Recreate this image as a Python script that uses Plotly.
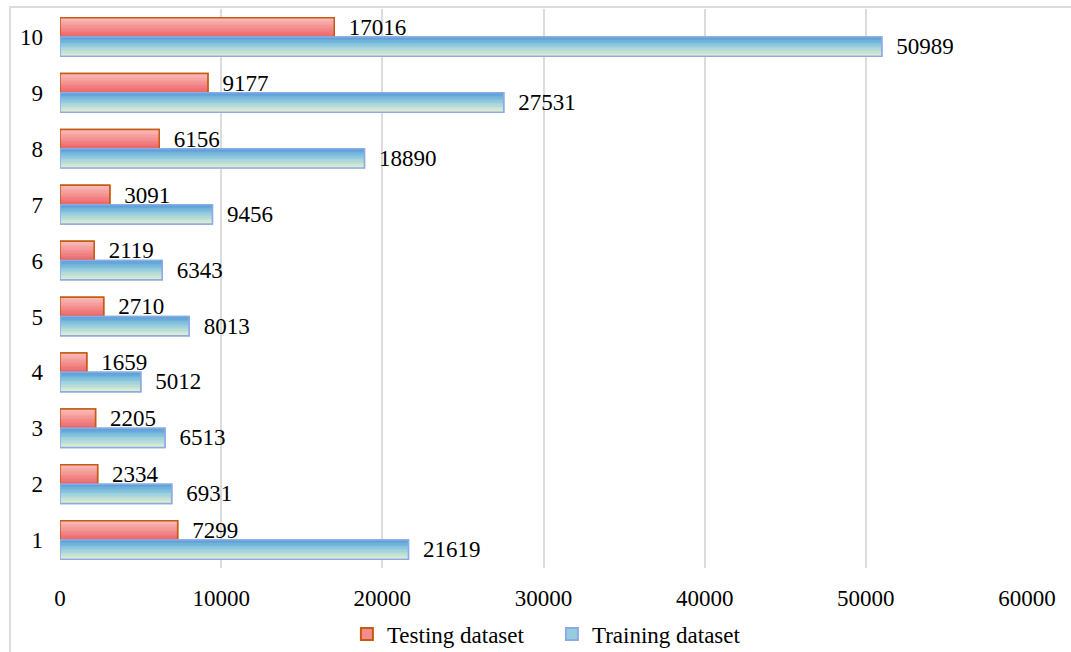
import plotly.graph_objects as go

categories = [1, 2, 3, 4, 5, 6, 7, 8, 9, 10]
testing = [7299, 2334, 2205, 1659, 2710, 2119, 3091, 6156, 9177, 17016]
training = [21619, 6931, 6513, 5012, 8013, 6343, 9456, 18890, 27531, 50989]
x_ticks = [0, 10000, 20000, 30000, 40000, 50000, 60000]

FONT = "Liberation Serif, Times New Roman, serif"
FS = 23
BW = 0.345  # bar thickness in category units

def lerp(c1, c2, t):
    return tuple(round(a + (b - a) * t) for a, b in zip(c1, c2))

def grad(stops, t):
    for (p0, c0), (p1, c1) in zip(stops, stops[1:]):
        if p0 <= t <= p1:
            return lerp(c0, c1, (t - p0) / (p1 - p0) if p1 > p0 else 0)
    return stops[-1][1]

# top -> bottom gradients
red_stops = [(0, (250, 188, 188)), (1, (236, 96, 96))]
blue_stops = [(0, (85, 158, 214)), (0.45, (150, 205, 222)), (1, (236, 242, 205))]

fig = go.Figure()

def add_series(name, values, base_off, stops, line_color, mid_color):
    fig.add_trace(go.Bar(
        y=categories, x=values, orientation="h", name=name,
        offset=base_off, width=BW,
        marker=dict(color=mid_color, line=dict(color=line_color, width=1.5)),
        showlegend=True, hoverinfo="skip",
    ))
    n = 14
    for i in range(n):
        t_top = 1 - (i + 0.5) / n
        c = grad(stops, t_top)
        fig.add_trace(go.Bar(
            y=categories, x=values, orientation="h",
            offset=base_off + BW * i / n, width=BW / n + 0.002,
            marker=dict(color="rgb(%d,%d,%d)" % c, line=dict(width=0)),
            showlegend=False, hoverinfo="skip",
        ))
    fig.add_trace(go.Bar(
        y=categories, x=values, orientation="h",
        offset=base_off, width=BW,
        marker=dict(color="rgba(0,0,0,0)", line=dict(color=line_color, width=1.5)),
        text=["  " + str(v) for v in values], textposition="outside",
        constraintext="none",
        textfont=dict(family=FONT, size=FS, color="#000000"),
        cliponaxis=False, showlegend=False, hoverinfo="skip",
    ))

add_series("Testing dataset\u2003", testing, 0.0, red_stops, "rgb(197,90,17)", "rgb(243,140,140)")
add_series("Training dataset", training, -BW, blue_stops, "rgb(140,170,230)", "rgb(150,205,222)")

fig.update_layout(
    barmode="overlay",
    width=1071, height=652,
    margin=dict(l=60, r=44, t=9, b=84, autoexpand=False),
    paper_bgcolor="white", plot_bgcolor="white",
    font=dict(family=FONT, size=FS, color="#000000"),
    xaxis=dict(
        range=[0, 60000], tickvals=x_ticks, ticktext=[str(v) for v in x_ticks],
        showgrid=True, gridcolor="#dcdcdc", gridwidth=1.5,
        zeroline=False, showline=False, ticks="",
        tickfont=dict(family=FONT, size=FS), ticklabelstandoff=14,
    ),
    yaxis=dict(
        range=[0.5, 10.5], tickvals=categories, ticktext=[str(c) for c in categories],
        showgrid=False, zeroline=False, showline=False, ticks="",
        tickfont=dict(family=FONT, size=FS), ticklabelstandoff=16,
    ),
    legend=dict(
        orientation="h", x=0.503, xanchor="center",
        yref="container", y=1 - 634 / 652, yanchor="middle",
        font=dict(family=FONT, size=FS), itemsizing="constant",
        traceorder="normal",
    ),
    showlegend=True,
    shapes=[dict(type="rect", xref="paper", yref="paper",
                 x0=(10 - 60) / 967, x1=1.1, y0=-0.2, y1=1.0035,
                 line=dict(color="#dcdcdc", width=2), fillcolor="rgba(0,0,0,0)",
                 layer="below")],
)

fig.write_html("out.html")
